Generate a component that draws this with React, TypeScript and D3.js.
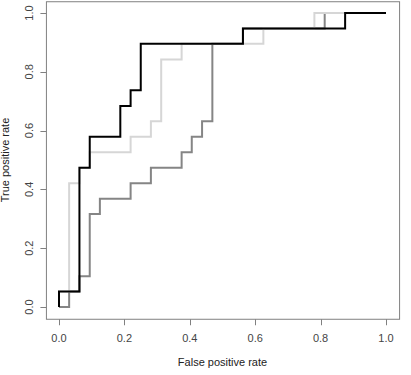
import React, { useEffect, useRef } from 'react';
import * as d3 from 'd3';

// ROC curves, corner points of each step path
const blackFpr = [0, 0, 0.0625, 0.0625, 0.094, 0.094, 0.1875, 0.1875, 0.219, 0.219, 0.25, 0.25, 0.5625, 0.5625, 0.875, 0.875, 1];
const blackTpr = [0, 0.053, 0.053, 0.474, 0.474, 0.579, 0.579, 0.684, 0.684, 0.737, 0.737, 0.895, 0.895, 0.947, 0.947, 1, 1];

const lightFpr = [0, 0, 0.031, 0.031, 0.0625, 0.0625, 0.094, 0.094, 0.219, 0.219, 0.281, 0.281, 0.3125, 0.3125, 0.375, 0.375, 0.625, 0.625, 0.781, 0.781, 1];
const lightTpr = [0, 0.053, 0.053, 0.421, 0.421, 0.474, 0.474, 0.526, 0.526, 0.579, 0.579, 0.632, 0.632, 0.842, 0.842, 0.895, 0.895, 0.947, 0.947, 1, 1];

const midFpr = [0, 0.031, 0.031, 0.0625, 0.0625, 0.094, 0.094, 0.125, 0.125, 0.219, 0.219, 0.281, 0.281, 0.375, 0.375, 0.406, 0.406, 0.4375, 0.4375, 0.469, 0.469, 0.5625, 0.5625, 0.8125, 0.8125, 1];
const midTpr = [0, 0, 0.053, 0.053, 0.105, 0.105, 0.316, 0.316, 0.368, 0.368, 0.421, 0.421, 0.474, 0.474, 0.526, 0.526, 0.579, 0.579, 0.632, 0.632, 0.895, 0.895, 0.947, 0.947, 1, 1];

const xTicks = [0, 0.2, 0.4, 0.6, 0.8, 1.0];
const yTicks = [0, 0.2, 0.4, 0.6, 0.8, 1.0];

export default function App() {
  const svgRef = useRef<SVGSVGElement>(null);

  useEffect(() => {
    const svg = d3.select(svgRef.current);
    svg.selectAll('*').remove();

    const x = d3.scaleLinear().domain([0, 1]).range([59, 386]);
    const y = d3.scaleLinear().domain([0, 1]).range([307, 13]);
    const font = 'Liberation Sans, Arial, sans-serif';
    const textCol = '#444';
    const axisCol = '#808080';

    const line = d3.line<[number, number]>()
      .x(d => x(d[0]))
      .y(d => y(d[1]));

    const curves = [
      { fpr: midFpr, tpr: midTpr, color: '#858585' },
      { fpr: lightFpr, tpr: lightTpr, color: '#d6d6d6' },
      { fpr: blackFpr, tpr: blackTpr, color: '#000' },
    ];

    curves.forEach(c => {
      const pts = c.fpr.map((f, i) => [f, c.tpr[i]] as [number, number]);
      svg.append('path')
        .attr('d', line(pts))
        .attr('fill', 'none')
        .attr('stroke', c.color)
        .attr('stroke-width', 2)
        .attr('stroke-linejoin', 'miter')
        .attr('stroke-linecap', 'butt');
    });

    // plot box (R style, 4% padding)
    svg.append('rect')
      .attr('x', x(-0.04) + 0.5)
      .attr('y', y(1.04) + 0.5)
      .attr('width', x(1.04) - x(-0.04))
      .attr('height', y(-0.04) - y(1.04))
      .attr('fill', 'none')
      .attr('stroke', axisCol)
      .attr('stroke-width', 1);

    const bottom = y(-0.04) + 0.5;
    svg.append('g')
      .selectAll('line')
      .data(xTicks)
      .join('line')
      .attr('x1', d => Math.round(x(d)) + 0.5)
      .attr('x2', d => Math.round(x(d)) + 0.5)
      .attr('y1', bottom)
      .attr('y2', bottom + 6)
      .attr('stroke', axisCol);

    svg.append('g')
      .selectAll('text')
      .data(xTicks)
      .join('text')
      .attr('x', d => x(d))
      .attr('y', 342)
      .attr('text-anchor', 'middle')
      .style('font-family', font)
      .style('font-size', '11px')
      .style('fill', textCol)
      .text(d => d.toFixed(1));

    const left = x(-0.04) + 0.5;
    svg.append('g')
      .selectAll('line')
      .data(yTicks)
      .join('line')
      .attr('x1', left)
      .attr('x2', left - 6)
      .attr('y1', d => Math.round(y(d)) + 0.5)
      .attr('y2', d => Math.round(y(d)) + 0.5)
      .attr('stroke', axisCol);

    svg.append('g')
      .selectAll('text')
      .data(yTicks)
      .join('text')
      .attr('transform', d => `translate(33,${y(d)}) rotate(-90)`)
      .attr('text-anchor', 'middle')
      .style('font-family', font)
      .style('font-size', '11px')
      .style('fill', textCol)
      .text(d => d.toFixed(1));

    svg.append('text')
      .attr('x', x(0.5))
      .attr('y', 366)
      .attr('text-anchor', 'middle')
      .style('font-family', font)
      .style('font-size', '11px')
      .style('fill', '#222')
      .text('False positive rate');

    svg.append('text')
      .attr('transform', `translate(9,${y(0.5)}) rotate(-90)`)
      .attr('text-anchor', 'middle')
      .style('font-family', font)
      .style('font-size', '11px')
      .style('fill', '#222')
      .text('True positive rate');
  }, []);

  return (
    <svg
      ref={svgRef}
      width={411}
      height={375}
      style={{ position: 'absolute', left: 0, top: 0, background: '#fff' }}
    />
  );
}
